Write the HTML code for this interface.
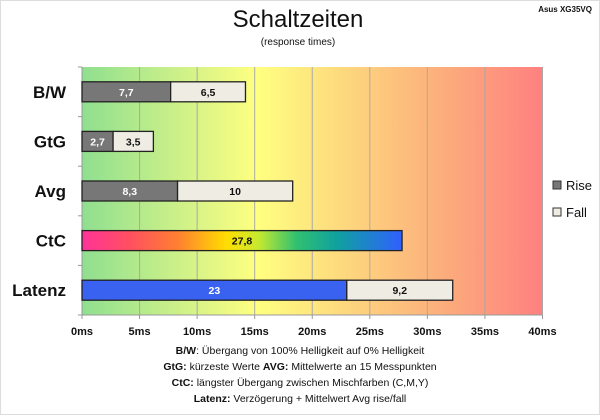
<!DOCTYPE html>
<html><head><meta charset="utf-8"><style>
body{margin:0;background:#fff;width:600px;height:415px;overflow:hidden;font-family:"Liberation Sans",sans-serif}
svg text{font-family:"Liberation Sans",sans-serif}
</style></head><body>
<svg id="chart" width="600" height="415" xmlns="http://www.w3.org/2000/svg">
<defs>
<linearGradient id="bg" x1="0" x2="1" y1="0" y2="0">
<stop offset="0" stop-color="#8fdf90"/><stop offset="0.18" stop-color="#c4ee8a"/><stop offset="0.38" stop-color="#ffff80"/>
<stop offset="0.6" stop-color="#fdd27e"/><stop offset="0.8" stop-color="#fcaa7c"/><stop offset="1" stop-color="#fe8080"/></linearGradient>
<linearGradient id="ctc" x1="0" x2="1" y1="0" y2="0">
<stop offset="0" stop-color="#ff3399"/><stop offset="0.15" stop-color="#ff5060"/><stop offset="0.3" stop-color="#ff8030"/>
<stop offset="0.45" stop-color="#ffdd00"/><stop offset="0.55" stop-color="#c8ea30"/><stop offset="0.67" stop-color="#30c070"/>
<stop offset="0.8" stop-color="#10a0a0"/><stop offset="1" stop-color="#3060ff"/></linearGradient>
</defs>
<rect x="0.5" y="0.5" width="599" height="414" fill="#fff" stroke="#ddd"/>
<text x="298" y="27" font-size="24" text-anchor="middle" fill="#111">Schaltzeiten</text>
<text x="298" y="45" font-size="10" text-anchor="middle" fill="#111">(response times)</text>
<text x="592" y="12" font-size="8" font-weight="bold" text-anchor="end" fill="#111">Asus XG35VQ</text>
<g id="plot"></g>
<g>
<rect x="553" y="181" width="8" height="8" fill="#777" stroke="#333"/>
<text x="566" y="190" font-size="13" fill="#111">Rise</text>
<rect x="553" y="208" width="8" height="8" fill="#efede3" stroke="#333"/>
<text x="566" y="217" font-size="13" fill="#111">Fall</text>
</g>
<g font-size="10.5" text-anchor="middle" fill="#111">
<text x="300" y="354"><tspan font-weight="bold">B/W</tspan>:  Übergang von 100% Helligkeit auf 0% Helligkeit</text>
<text x="300" y="370"><tspan font-weight="bold">GtG:</tspan> kürzeste Werte      <tspan font-weight="bold">AVG:</tspan> Mittelwerte an 15 Messpunkten</text>
<text x="300" y="386"><tspan font-weight="bold">CtC:</tspan> längster Übergang zwischen Mischfarben (C,M,Y)</text>
<text x="300" y="402"><tspan font-weight="bold">Latenz:</tspan> Verzögerung  + Mittelwert Avg rise/fall</text>
</g>
</svg>
<script>
const categories=["B/W","GtG","Avg","CtC","Latenz"];
const riseValues=[7.7,2.7,8.3,27.8,23];
const fallValues=[6.5,3.5,10,0,9.2];
const riseLabels=["7,7","2,7","8,3","27,8","23"];
const fallLabels=["6,5","3,5","10","","9,2"];
const xTicks=[0,5,10,15,20,25,30,35,40];
const xMax=40;
const NS="http://www.w3.org/2000/svg";
const L=82,R=542.5,T=67,B=315;
const xs=v=>L+(R-L)*v/xMax;
const band=(B-T)/categories.length;
const g=document.getElementById('plot');
function mk(t,a,p){const e=document.createElementNS(NS,t);for(const k in a)e.setAttribute(k,a[k]);(p||g).appendChild(e);return e;}
const bg=mk('rect',{x:L,y:T,width:R-L,height:B-T,fill:'url(#bg)'});


xTicks.forEach(t=>{
 if(t>0){const ln=mk('line',{x1:xs(t),x2:xs(t),y1:T,y2:B,stroke:'#aaa','stroke-width':1});
 
 }
 const tk=mk('line',{x1:xs(t),x2:xs(t),y1:B,y2:B+4,stroke:'#999'});
 
 
 const tx=mk('text',{x:xs(t),y:B+20,'font-size':11,'font-weight':'bold','text-anchor':'middle',fill:'#111'});
 tx.textContent=t+'ms';
 
 
});
const ax=mk('line',{x1:L,x2:L,y1:T,y2:B,stroke:'#999'});


const ax2=mk('line',{x1:L,x2:R,y1:B,y2:B,stroke:'#999'});


for(let i=0;i<=categories.length;i++){const tk=mk('line',{x1:L-4,x2:L,y1:T+i*band,y2:T+i*band,stroke:'#999'});
 
 }
categories.forEach((c,i)=>{
 const cy=T+band*(i+0.5), h=20, y=cy-h/2;
 const lb=mk('text',{x:66,y:cy+6,'font-size':17,'font-weight':'bold','text-anchor':'end',fill:'#111'});
 lb.textContent=c;
 
 
 const rf=c==='CtC'?'url(#ctc)':(c==='Latenz'?'#3a62f0':'#777');
 const r=mk('rect',{x:xs(0),y:y,width:xs(riseValues[i])-xs(0),height:h,fill:rf,stroke:'#222','stroke-width':1.3});
 
 
 const rt=mk('text',{x:(xs(0)+xs(riseValues[i]))/2,y:cy+4,'font-size':10.5,'font-weight':'bold','text-anchor':'middle',fill:c==='CtC'?'#111':'#fff'});
 rt.textContent=riseLabels[i];
 
 
 if(fallValues[i]>0){
  const x0=xs(riseValues[i]),x1=xs(riseValues[i]+fallValues[i]);
  const f=mk('rect',{x:x0,y:y,width:x1-x0,height:h,fill:'#efede3',stroke:'#222','stroke-width':1.3});
  
  
  const ft=mk('text',{x:(x0+x1)/2,y:cy+4,'font-size':10.5,'font-weight':'bold','text-anchor':'middle',fill:'#111'});
  ft.textContent=fallLabels[i];
  
  
 }
});
</script>
</body></html>
